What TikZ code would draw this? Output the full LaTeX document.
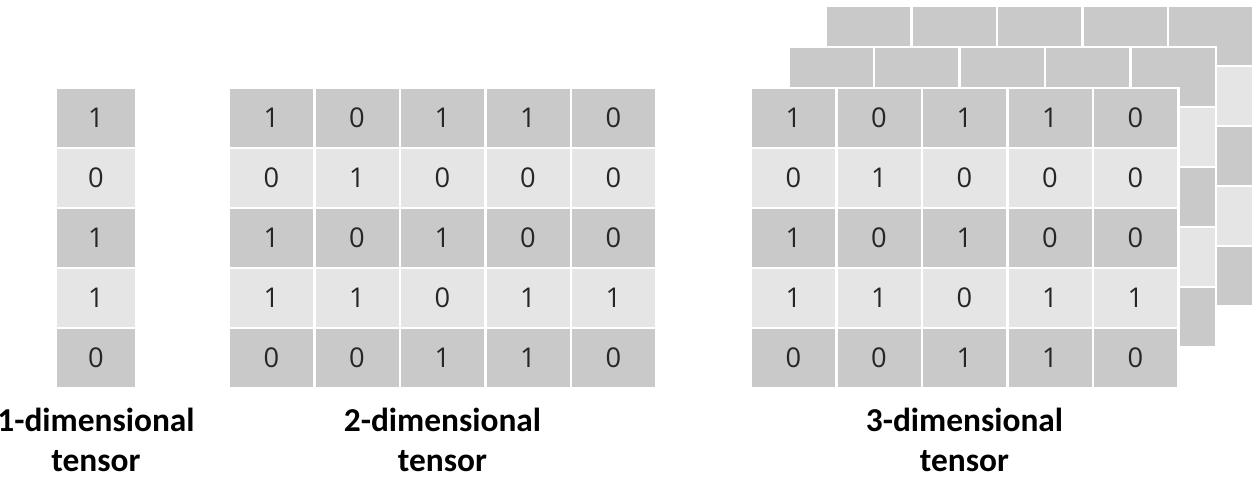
\documentclass[tikz,border=0pt]{standalone}
\usepackage{fontspec}
\setmainfont{Carlito}
\newfontfamily\digitfont{Open Sans}
\usetikzlibrary{positioning}

\definecolor{cellA}{HTML}{C9C9C9}
\definecolor{cellB}{HTML}{E5E5E5}
\definecolor{digit}{HTML}{262626}

\tikzset{
	cell/.style={draw=white,line width=0.5mm,inner sep=0pt,
		minimum width=17.1mm,minimum height=12mm,
		font=\digitfont\fontsize{15.5}{18}\selectfont,text=digit},
	darkcell/.style={cell,fill=cellA},
	lightcell/.style={cell,fill=cellB},
	narrow/.style={minimum width=16.1mm},
	caption/.style={font=\bfseries\fontsize{19}{22.8}\selectfont,
		align=center,inner sep=0pt}
}

\begin{document}
\begin{tikzpicture}[x=0.2mm,y=-0.2mm]
	\useasboundingbox (0,0) rectangle (1254,478);
	% 1-dimensional
	\foreach \r/\s/\v in {0/darkcell/1,1/lightcell/0,2/darkcell/1,3/lightcell/1,4/darkcell/0}
		\node[\s,narrow] (v-\r) at (96,{118+60*\r}) {\v};
	% 2-dimensional
	\foreach \r/\s/\vals in {0/darkcell/{1,0,1,1,0},1/lightcell/{0,1,0,0,0},
		2/darkcell/{1,0,1,0,0},3/lightcell/{1,1,0,1,1},4/darkcell/{0,0,1,1,0}}
		\foreach \v [count=\c from 0] in \vals
			\node[\s] (m-\r-\c) at ({271.5+85.5*\c},{118+60*\r}) {\v};
	% 3-dimensional: back and middle sheets
	\foreach \dx/\dy/\l in {75/82/b,37.5/41/h}
		\foreach \r/\s in {0/darkcell,1/lightcell,2/darkcell,3/lightcell,4/darkcell}
			\foreach \c in {0,...,4}
				\node[\s] (\l-\r-\c) at ({793.5+\dx+85.5*\c},{118-\dy+60*\r}) {};
	% 3-dimensional: front sheet
	\foreach \r/\s/\vals in {0/darkcell/{1,0,1,1,0},1/lightcell/{0,1,0,0,0},
		2/darkcell/{1,0,1,0,0},3/lightcell/{1,1,0,1,1},4/darkcell/{0,0,1,1,0}}
		\foreach \v [count=\c from 0] in \vals
			\node[\s] (t-\r-\c) at ({793.5+85.5*\c},{118+60*\r}) {\v};
	% captions
	\node[caption,below=3.6mm of v-4] (cap1) {1-dimensional\\tensor};
	\node[caption,below=3.6mm of m-4-2] (cap2) {2-dimensional\\tensor};
	\node[caption,below=3.6mm of t-4-2] (cap3) {3-dimensional\\tensor};
\end{tikzpicture}
\end{document}
